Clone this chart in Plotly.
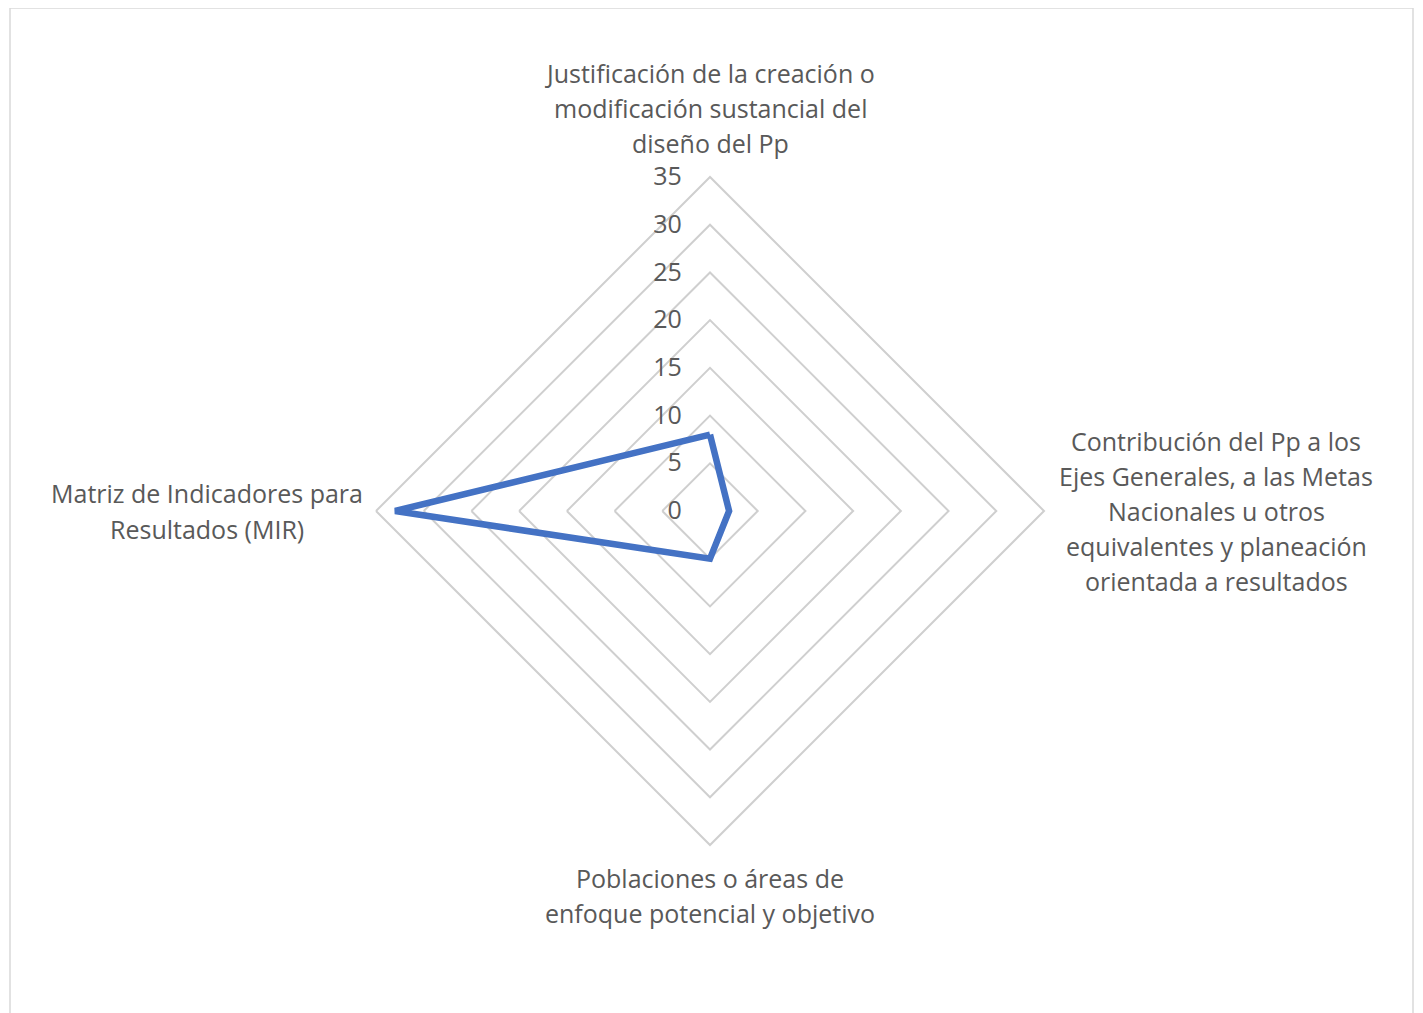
import plotly.graph_objects as go

label_lines = [
    ["Justificación de la creación o", "modificación sustancial del", "diseño del Pp"],
    ["Contribución del Pp a los", "Ejes Generales, a las Metas", "Nacionales u otros",
     "equivalentes y planeación", "orientada a resultados"],
    ["Poblaciones o áreas de", "enfoque potencial y objetivo"],
    ["Matriz de Indicadores para", "Resultados (MIR)"],
]
categories = [" ".join(l) for l in label_lines]
values = [8, 2, 5, 33]
tick_vals = [0, 5, 10, 15, 20, 25, 30, 35]

W, H = 1423, 1013
OFF = 8  # page body margin
cx, cy, R = 710 - OFF, 511 - OFF, 334
FONT = "Open Sans"
TXT = "#595959"
GRID = "#cfcfcf"
LS = 35  # line spacing px

def px(x):
    return x / W

def py(y):
    return 1 - y / H

fig = go.Figure()
fig.add_trace(go.Scatterpolar(
    r=values + values[:1],
    theta=categories + categories[:1],
    mode="lines",
    line=dict(color="#4472C4", width=6.5),
    showlegend=False,
    hoverinfo="skip",
))

fig.update_layout(
    width=W, height=H,
    margin=dict(l=0, r=0, t=0, b=0),
    paper_bgcolor="white",
    plot_bgcolor="white",
    font=dict(family=FONT, size=25, color=TXT),
    polar=dict(
        domain=dict(x=[px(cx - R), px(cx + R)], y=[py(cy + R), py(cy - R)]),
        bgcolor="white",
        gridshape="linear",
        angularaxis=dict(
            direction="clockwise", rotation=90,
            showgrid=False, showticklabels=False, ticks="",
            showline=True, linecolor=GRID, linewidth=2,
            categoryorder="array", categoryarray=categories,
        ),
        radialaxis=dict(
            range=[0, 35], tickvals=tick_vals, angle=90, tickangle=90,
            side="counterclockwise",
            showline=False, gridcolor=GRID, gridwidth=2,
            ticks="outside", ticklen=19, tickcolor="rgba(0,0,0,0)",
            tickfont=dict(family=FONT, size=25, color=TXT),
        ),
    ),
)

# category labels placed around the chart (one annotation per line)
anchors = [
    (cx, cy - R - 34 - LS * (len(label_lines[0]) - 1)),      # top: first-line center y
    (cx + R + 172, cy - LS * (len(label_lines[1]) - 1) / 2),  # right block center x
    (cx, cy + R + 33),                                        # bottom
    (cx - R - 169, cy - LS * (len(label_lines[3]) - 1) / 2),  # left block center x
]
for lines, (ax, ay) in zip(label_lines, anchors):
    for i, line in enumerate(lines):
        fig.add_annotation(xref="paper", yref="paper", showarrow=False,
                           x=px(ax), y=py(ay + i * LS), xanchor="center", yanchor="middle",
                           text=line, font=dict(family=FONT, size=25, color=TXT))

# outer chart border
fig.add_shape(type="rect", xref="paper", yref="paper",
              x0=px(10 - OFF), x1=px(1413 - OFF), y0=-0.02, y1=py(8 - OFF),
              line=dict(color="#d9d9d9", width=1.5))

fig.write_html("out.html")
